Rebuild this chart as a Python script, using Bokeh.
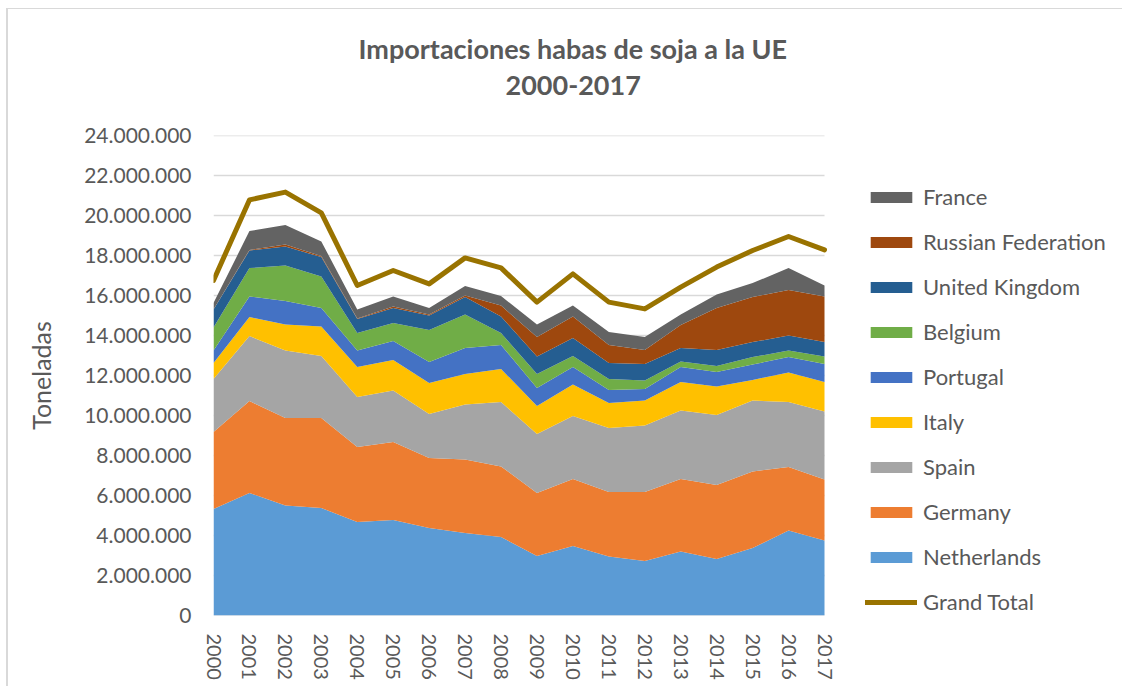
from bokeh.plotting import figure
from bokeh.models import (ColumnDataSource, FixedTicker, CustomJSTickFormatter,
                          Legend, LegendItem, Title, Range1d)
from bokeh.embed import file_html
from bokeh.resources import INLINE

# ---------------- data (toneladas) ----------------
years = list(range(2000, 2018))
year_labels = [str(y) for y in years]

netherlands = [5330000, 6130000, 5500000, 5370000, 4670000, 4780000, 4370000, 4120000, 3920000,
               2970000, 3470000, 2950000, 2720000, 3200000, 2820000, 3370000, 4250000, 3750000]
germany = [3840000, 4590000, 4370000, 4500000, 3750000, 3890000, 3510000, 3680000, 3530000,
           3160000, 3360000, 3220000, 3450000, 3630000, 3710000, 3830000, 3170000, 3050000]
spain = [2660000, 3250000, 3380000, 3100000, 2500000, 2580000, 2200000, 2750000, 3220000,
         2950000, 3140000, 3200000, 3330000, 3420000, 3500000, 3550000, 3250000, 3400000]
italy = [790000, 950000, 1300000, 1480000, 1500000, 1530000, 1540000, 1530000, 1660000,
         1390000, 1580000, 1250000, 1250000, 1420000, 1420000, 1030000, 1480000, 1470000]
portugal = [630000, 1030000, 1170000, 930000, 830000, 940000, 1050000, 1290000, 1200000,
            900000, 870000, 660000, 580000, 750000, 720000, 770000, 770000, 910000]
belgium = [1150000, 1420000, 1780000, 1570000, 870000, 910000, 1610000, 1680000, 590000,
           710000, 550000, 550000, 420000, 280000, 300000, 370000, 330000, 370000]
united_kingdom = [900000, 880000, 950000, 970000, 710000, 750000, 720000, 870000, 830000,
                  870000, 900000, 790000, 830000, 670000, 810000, 750000, 750000, 720000]
russian_federation = [0, 30000, 100000, 50000, 20000, 70000, 50000, 80000, 550000,
                      970000, 1080000, 910000, 700000, 1160000, 2090000, 2250000, 2280000, 2280000]
france = [320000, 940000, 980000, 730000, 450000, 500000, 320000, 470000, 470000,
          630000, 550000, 640000, 640000, 520000, 680000, 700000, 1090000, 550000]
grand_total = [16750000, 20780000, 21170000, 20130000, 16500000, 17250000, 16580000, 17880000, 17380000,
               15670000, 17080000, 15670000, 15330000, 16420000, 17420000, 18250000, 18950000, 18280000]

series_names = ["Netherlands", "Germany", "Spain", "Italy", "Portugal", "Belgium",
                "United Kingdom", "Russian Federation", "France"]
series_values = [netherlands, germany, spain, italy, portugal, belgium,
                 united_kingdom, russian_federation, france]
y_ticks = list(range(0, 24000001, 2000000))

title_line1 = "Importaciones habas de soja a la UE"
title_line2 = "2000-2017"
y_label = "Toneladas"

# ---------------- styles / layout ----------------
colors = ["#5B9BD5", "#ED7D31", "#A5A5A5", "#FFC000", "#4472C4", "#70AD47",
          "#255E91", "#9E480E", "#636363"]
total_color = "#997300"
grid_color = "#d9d9d9"
text_color = "#595959"
FONT = "Lato"

FIG_W, FIG_H = 1116, 678
LEFT, TOP, BOTTOM = 205, 126, 72
DATA_W = 611                        # pixel width used by the 2000-2017 span
frame_w = FIG_W - LEFT              # frame continues under the legend area
x_end = years[0] + (years[-1] - years[0]) * frame_w / DATA_W

data = {"year": years, "total": grand_total}
for n, v in zip(series_names, series_values):
    data[n] = v
source = ColumnDataSource(data)

grid_source = ColumnDataSource({"y": y_ticks,
                                "x0": [years[0]] * len(y_ticks),
                                "x1": [years[-1]] * len(y_ticks)})

p = figure(width=FIG_W, height=FIG_H, output_backend="svg", toolbar_location=None,
           x_range=Range1d(years[0], x_end), y_range=Range1d(0, y_ticks[-1]),
           min_border_left=LEFT, min_border_right=0, min_border_top=TOP,
           min_border_bottom=BOTTOM, title=None)
p.styles = {"margin-left": "6px", "margin-top": "8px",
            "border-left": "2px solid #d9d9d9", "border-top": "1px solid #d9d9d9"}
p.outline_line_color = None
p.background_fill_color = "white"
p.border_fill_color = "white"

# horizontal gridlines limited to the data span
grid_r = p.segment(x0="x0", x1="x1", y0="y", y1="y", source=grid_source,
                   line_color=grid_color, line_width=1.5)
grid_r.level = "underlay"

area_renderers = p.varea_stack(stackers=series_names, x="year", color=colors, source=source)
total_renderer = p.line("year", "total", source=source, line_color=total_color,
                        line_width=5, line_join="round", line_cap="round")

p.xgrid.grid_line_color = None
p.ygrid.grid_line_color = None

# x axis
p.xaxis.ticker = FixedTicker(ticks=years)
p.xaxis.major_label_overrides = {y: s for y, s in zip(years, year_labels)}
p.xaxis.major_label_orientation = "vertical"
p.xaxis.major_tick_line_color = None
p.xaxis.minor_tick_line_color = None
p.xaxis.major_tick_out = 0
p.xaxis.minor_tick_out = 0
p.xaxis.axis_line_color = None
p.xaxis.major_label_standoff = 18
p.xaxis.major_label_text_font = FONT
p.xaxis.major_label_text_font_size = "20px"
p.xaxis.major_label_text_color = text_color

# y axis
p.yaxis.ticker = FixedTicker(ticks=y_ticks)
p.yaxis.formatter = CustomJSTickFormatter(
    code='return Math.round(tick).toString().replace(/\\B(?=(\\d{3})+(?!\\d))/g, ".");')
p.yaxis.axis_line_color = None
p.yaxis.major_tick_line_color = None
p.yaxis.minor_tick_line_color = None
p.yaxis.major_tick_out = 0
p.yaxis.minor_tick_out = 0
p.yaxis.major_label_standoff = 22
p.yaxis.major_label_text_font = FONT
p.yaxis.major_label_text_font_size = "21px"
p.yaxis.major_label_text_color = text_color
p.yaxis.axis_label = y_label
p.yaxis.axis_label_text_font = FONT
p.yaxis.axis_label_text_font_style = "normal"
p.yaxis.axis_label_text_font_size = "25px"
p.yaxis.axis_label_text_color = text_color
p.yaxis.axis_label_standoff = 25

# title: two lines above the plot (second line nearest the plot)
t2 = Title(text=title_line2, align="left", offset=292, standoff=82,
           text_font=FONT, text_font_style="bold", text_font_size="27px",
           text_color=text_color)
t1 = Title(text=title_line1, align="left", offset=145, standoff=-64,
           text_font=FONT, text_font_style="bold", text_font_size="27px",
           text_color=text_color)
p.add_layout(t2, "above")
p.add_layout(t1, "above")

# legend, placed right of the data span
items = [LegendItem(label=n, renderers=[r])
         for n, r in reversed(list(zip(series_names, area_renderers)))]
items.append(LegendItem(label="Grand Total", renderers=[total_renderer]))
legend = Legend(items=items, location=(652, 0), orientation="vertical",
                glyph_width=52, glyph_height=14, label_height=24, spacing=18,
                padding=0, margin=0, label_standoff=6,
                background_fill_alpha=0, border_line_alpha=0,
                label_text_font=FONT, label_text_font_size="22px",
                label_text_color=text_color)
p.add_layout(legend, "center")

open("out.html", "w").write(file_html(p, INLINE))
